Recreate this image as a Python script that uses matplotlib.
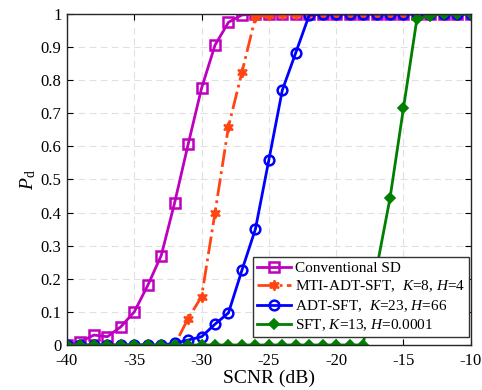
import numpy as np
import matplotlib
matplotlib.use("Agg")
import matplotlib.pyplot as plt

plt.rcParams['font.family'] = ['Liberation Serif', 'DejaVu Serif']
plt.rcParams['mathtext.fontset'] = 'custom'
plt.rcParams['mathtext.rm'] = 'Liberation Serif'
plt.rcParams['mathtext.it'] = 'Liberation Serif:italic'
plt.rcParams['axes.unicode_minus'] = False

# SCNR axis, one point per dB
scnr = np.arange(-40, -9, 1)

pd_sd = [0, 0.01, 0.03, 0.025, 0.055, 0.10, 0.18, 0.27, 0.43, 0.606, 0.776,
         0.906, 0.975, 0.997] + [1.0] * 17
pd_mti = [0] * 9 + [0.08, 0.146, 0.40, 0.66, 0.824, 0.99, 0.997] + [1.0] * 15
pd_adt = [0] * 8 + [0.005, 0.015, 0.025, 0.063, 0.097, 0.226, 0.35, 0.559,
                    0.77, 0.883, 0.997] + [1.0] * 12
pd_sft = [0] * 23 + [0.23, 0.443, 0.715, 0.985, 0.995, 1.0, 1.0, 1.0]

labels = ["Conventional SD",
          "MTI-ADT-SFT,  $K$=8, $H$=4",
          "ADT-SFT,  $K$=23, $H$=66",
          "SFT, $K$=13, $H$=0.0001"]

fig = plt.figure(figsize=(4.82, 3.90), dpi=100)
ax = fig.add_axes([0.139, 0.1154, 0.8376, 0.8487])

ax.plot(scnr, pd_sd, '-', color='#BF00BF', lw=2, marker='s', ms=6.5,
        mfc='none', mew=1.8, label=labels[0])
ax.plot(scnr, pd_mti, '-.', color='#FF4513', lw=2, marker=(6, 1, 0), ms=7.5,
        mfc='#FF4513', mew=1.2, label=labels[1])
ax.plot(scnr, pd_adt, '-', color='#0000FF', lw=2, marker='o', ms=7,
        mfc='none', mew=1.8, label=labels[2])
ax.plot(scnr, pd_sft, '-', color='#007F00', lw=2, marker='D', ms=5,
        mfc='#007F00', mew=1.2, label=labels[3])

ax.set_xlim(-40, -10)
ax.set_ylim(0, 1)
ax.set_xticks(np.arange(-40, -9, 5))
ax.set_yticks(np.arange(0, 1.01, 0.1))
ax.set_yticklabels(['0', '0.1', '0.2', '0.3', '0.4', '0.5', '0.6', '0.7',
                    '0.8', '0.9', '1'])
ax.tick_params(direction='in', top=True, right=True, labelsize=12,
               length=4, width=0.8)
ax.tick_params(axis='x', pad=6)
ax.tick_params(axis='y', pad=4)
ax.grid(True, linestyle=(0, (6, 4)), color='#E0E0E0', lw=0.8)
for s in ax.spines.values():
    s.set_linewidth(1.0)
    s.set_color('#262626')

ax.set_xlabel("SCNR (dB)", fontsize=14, labelpad=0)
ax.set_ylabel(r"$P_{\rm d}$", fontsize=14, labelpad=2)

leg = ax.legend(loc='lower right', bbox_to_anchor=(0.996, 0.024),
                fontsize=11, handlelength=2.2,
                borderaxespad=0, borderpad=0.25, labelspacing=0.25,
                handletextpad=0.3, fancybox=False, framealpha=1,
                edgecolor='#333333')
leg.get_frame().set_linewidth(1.0)

fig.savefig("out.png", dpi=100)
